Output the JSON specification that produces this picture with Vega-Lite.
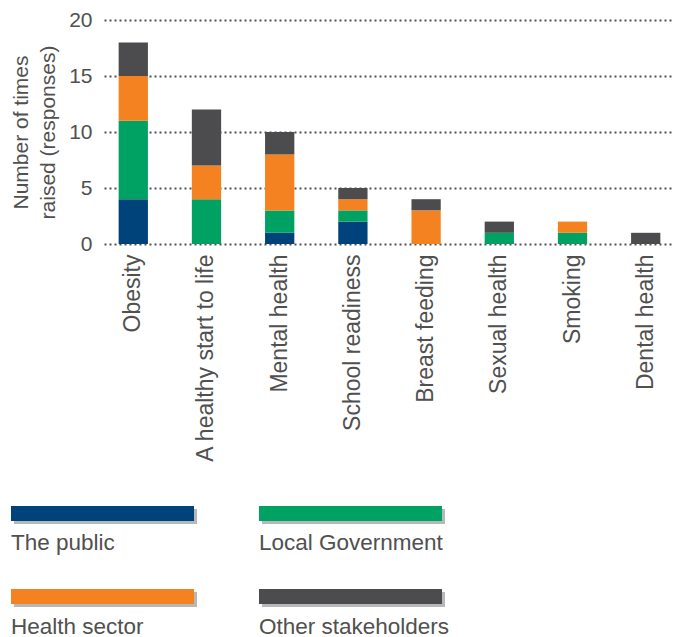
{
  "$schema": "https://vega.github.io/schema/vega-lite/v6.json",
  "padding": {"left": 10, "top": 9, "right": 0, "bottom": 0},
  "autosize": {"type": "pad"},
  "spacing": 42,
  "config": {
    "view": {"stroke": null},
    "font": "Liberation Sans",
    "text": {"font": "Liberation Sans"}
  },
  "datasets": {
    "counts": [
      {"topic": "Obesity", "group": "The public", "n": 4},
      {"topic": "Obesity", "group": "Local Government", "n": 7},
      {"topic": "Obesity", "group": "Health sector", "n": 4},
      {"topic": "Obesity", "group": "Other stakeholders", "n": 3},
      {"topic": "A healthy start to life", "group": "Local Government", "n": 4},
      {"topic": "A healthy start to life", "group": "Health sector", "n": 3},
      {"topic": "A healthy start to life", "group": "Other stakeholders", "n": 5},
      {"topic": "Mental health", "group": "The public", "n": 1},
      {"topic": "Mental health", "group": "Local Government", "n": 2},
      {"topic": "Mental health", "group": "Health sector", "n": 5},
      {"topic": "Mental health", "group": "Other stakeholders", "n": 2},
      {"topic": "School readiness", "group": "The public", "n": 2},
      {"topic": "School readiness", "group": "Local Government", "n": 1},
      {"topic": "School readiness", "group": "Health sector", "n": 1},
      {"topic": "School readiness", "group": "Other stakeholders", "n": 1},
      {"topic": "Breast feeding", "group": "Health sector", "n": 3},
      {"topic": "Breast feeding", "group": "Other stakeholders", "n": 1},
      {"topic": "Sexual health", "group": "Local Government", "n": 1},
      {"topic": "Sexual health", "group": "Other stakeholders", "n": 1},
      {"topic": "Smoking", "group": "Local Government", "n": 1},
      {"topic": "Smoking", "group": "Health sector", "n": 1},
      {"topic": "Dental health", "group": "Other stakeholders", "n": 1}
    ],
    "groups": [
      {"group": "The public"},
      {"group": "Local Government"},
      {"group": "Health sector"},
      {"group": "Other stakeholders"}
    ]
  },
  "vconcat": [
    {
      "width": 571,
      "height": 224,
      "data": {"name": "counts"},
      "transform": [
        {"calculate": "indexof(['The public','Local Government','Health sector','Other stakeholders'], datum.group)", "as": "stackIdx"}
      ],
      "mark": {"type": "bar"},
      "encoding": {
        "x": {
          "field": "topic", "type": "nominal", "sort": null,
          "scale": {"paddingInner": 0.6, "paddingOuter": 0.2},
          "axis": {
            "title": null, "labelAngle": -90, "labelAlign": "right", "labelBaseline": "middle",
            "labelFontSize": 23, "labelPadding": 10, "ticks": false, "domain": false, "grid": false,
            "labelColor": "#505050", "labelLimit": 400
          }
        },
        "y": {
          "field": "n", "type": "quantitative", "stack": "zero",
          "scale": {"domain": [0, 20]},
          "axis": {
            "values": [0, 5, 10, 15, 20],
            "title": ["Number of times", "raised (responses)"],
            "titleFontSize": 21, "titleFontWeight": "normal", "titleColor": "#505050",
            "titleLineHeight": 27, "titlePadding": 10,
            "labelFontSize": 21, "labelColor": "#505050", "labelPadding": 12,
            "ticks": false, "domain": false,
            "grid": true, "gridColor": "#505050", "gridDash": [2, 3], "gridWidth": 2
          }
        },
        "color": {
          "field": "group", "type": "nominal",
          "scale": {
            "domain": ["The public", "Local Government", "Health sector", "Other stakeholders"],
            "range": ["#00427a", "#00a264", "#f58220", "#4c4c4e"]
          },
          "legend": null
        },
        "order": {"field": "stackIdx", "type": "quantitative"}
      }
    },
    {
      "width": 431,
      "height": 98,
      "data": {"name": "groups"},
      "transform": [
        {"window": [{"op": "row_number", "as": "idx"}]},
        {"calculate": "(datum.idx - 1) % 2", "as": "col"},
        {"calculate": "floor((datum.idx - 1) / 2)", "as": "row"}
      ],
      "encoding": {
        "x": {"field": "col", "type": "ordinal", "scale": {"type": "band", "range": [-93, 338], "paddingInner": 0.262, "paddingOuter": 0}, "axis": null},
        "y": {"field": "row", "type": "ordinal", "scale": {"type": "band", "paddingInner": 0.82, "paddingOuter": 0}, "axis": null}
      },
      "layer": [
        {"mark": {"type": "rect", "color": "#b8b8b8", "xOffset": 3, "yOffset": 3}},
        {
          "mark": {"type": "rect"},
          "encoding": {
            "color": {
              "field": "group", "type": "nominal",
              "scale": {
                "domain": ["The public", "Local Government", "Health sector", "Other stakeholders"],
                "range": ["#00427a", "#00a264", "#f58220", "#4c4c4e"]
              },
              "legend": null
            }
          }
        },
        {
          "mark": {"type": "text", "align": "left", "baseline": "alphabetic", "fontSize": 22.5, "yOffset": 37, "color": "#505050"},
          "encoding": {
            "x": {"field": "col", "type": "ordinal", "bandPosition": 0},
            "text": {"field": "group"}
          }
        }
      ]
    }
  ]
}
